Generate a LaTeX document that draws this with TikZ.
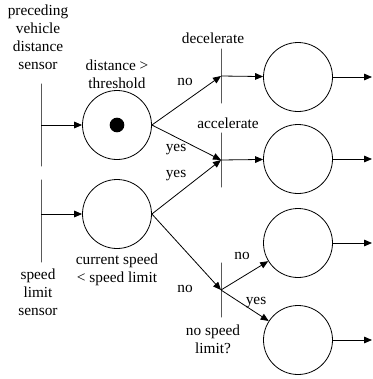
\documentclass[tikz,border=0pt]{standalone}
\usepackage{fontspec}
\setmainfont{Liberation Serif}
\newfontfamily\texteserif{Liberation Serif}
\usetikzlibrary{arrows.meta}
\tikzset{
    place/.style={draw,circle,minimum size=51.75pt,inner sep=0pt},
    token/.style={fill,circle,minimum size=11pt,inner sep=0pt},
    trans/.style={draw,rectangle,minimum width=0pt,inner sep=0pt},
    lbl/.style={align=center,inner sep=0pt},
    fleche/.style={-{Triangle[length=6pt,width=5pt]}}
}
\begin{document}
\begin{tikzpicture}[x=0.75pt,y=-0.75pt,line width=0.6pt,font=\texteserif\fontsize{11.5}{13.5}\selectfont]
    \useasboundingbox (0,0) rectangle (372,379);

    % Les places (cercles)
    \node[place] (dist) at (117,125) {};
    \node[token] (jeton) at (117,125) {};
    \node[place] (vit) at (117,214) {};
    \node[place] (dec) at (298,77) {};
    \node[place] (acc) at (298,159) {};
    \node[place] (libre) at (298,243) {};
    \node[place] (nolim) at (298,340) {};

    % Les transitions (barres)
    \node[trans,minimum height=62pt] (capt1) at (41,125) {};
    \node[trans,minimum height=62pt] (capt2) at (41,221) {};
    \node[trans,minimum height=41pt] (tdec) at (221,76) {};
    \node[trans,minimum height=41pt] (tacc) at (221,160) {};
    \node[trans,minimum height=41pt] (tlim) at (221,290) {};

    % Sorties
    \coordinate (s1) at (372,77);
    \coordinate (s2) at (372,159);
    \coordinate (s3) at (372,243);
    \coordinate (s4) at (372,340);

    % Textes
    \node[lbl] (lcapt1) at (38,37) {preceding\\vehicle\\distance\\sensor};
    \node[lbl] (ldist) at (117,74) {distance >\\threshold};
    \node[lbl] (lvit) at (117,270) {current speed\\< speed limit};
    \node[lbl] (lcapt2) at (38,292) {speed\\limit\\sensor};
    \node[lbl] (ldec) at (213,38) {decelerate};
    \node[lbl] (lacc) at (228,123) {accelerate};
    \node[lbl] (llim) at (213,339) {no speed\\limit?};

    % Les arcs
    \draw[fleche] (capt1.center) -- (dist);
    \draw[fleche] (capt1.center |- vit) -- (vit);
    \draw[fleche] (dist.east) -- (tdec.center);
    \draw[fleche] (dist.east) -- (tacc.center);
    \draw[fleche] (vit.east) -- (tacc.center);
    \draw[fleche] (vit.east) -- (tlim.center);
    \draw[fleche] (tdec.center) -- (dec);
    \draw[fleche] (tacc.center) -- (acc);
    \draw[fleche] (tlim.center) -- (libre);
    \draw[fleche] (tlim.center) -- (nolim);
    \draw[fleche] (dec) -- (s1);
    \draw[fleche] (acc) -- (s2);
    \draw[fleche] (libre) -- (s3);
    \draw[fleche] (nolim) -- (s4);

    % Etiquettes des arcs
    \node[lbl] (no1) at (185,82) {no};
    \node[lbl] (yes1) at (176,150) {yes};
    \node[lbl] (yes2) at (176,176) {yes};
    \node[lbl] (no2) at (185,289) {no};
    \node[lbl] (no3) at (242,256) {no};
    \node[lbl] (yes3) at (256,303) {yes};
\end{tikzpicture}
\end{document}
